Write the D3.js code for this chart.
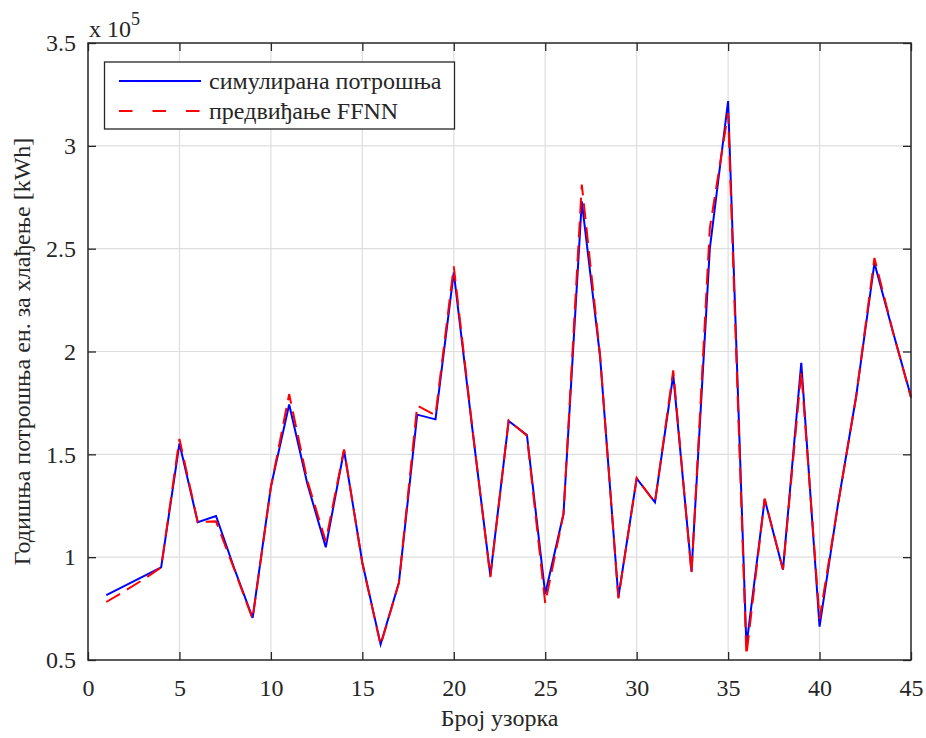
<!DOCTYPE html>
<html>
<head>
<meta charset="utf-8">
<script src="https://cdn.jsdelivr.net/npm/d3@7"></script>
<style>
  html, body { margin: 0; padding: 0; background: #fff; }
  svg { display: block; }
  text { font-family: "Liberation Serif", "Times New Roman", serif; fill: #262626; }
</style>
</head>
<body>
<svg id="chart" width="926" height="738"></svg>
<script>
// Sample index (1..45)
const samples = d3.range(1, 46);

// Simulated annual cooling energy consumption [kWh]
const simulated = [
  81500, 86000, 90500, 95000, 155300, 117000, 120000, 94500, 70500, 134300,
  174200, 135500, 104800, 152000, 97400, 57600, 87600, 169300, 167000, 238500,
  163500, 91000, 166200, 159400, 82100, 121100, 273000, 197500, 80500, 138300,
  126700, 188600, 93000, 250000, 321800, 56900, 128200, 93900, 194500, 66200,
  125300, 178100, 243000, 210000, 178000
];

// FFNN prediction [kWh]
const predicted = [
  78200, 83500, 89000, 95000, 157500, 117000, 117400, 94000, 70000, 134000,
  179300, 137000, 107700, 152400, 97000, 57200, 87500, 173700, 169000, 241400,
  164000, 90300, 166500, 159000, 77600, 121000, 281200, 198000, 80000, 138500,
  126500, 190800, 92000, 260000, 316000, 52300, 128500, 94000, 190400, 70000,
  125000, 178000, 245500, 210000, 177500
];

const xTicks = [0, 5, 10, 15, 20, 25, 30, 35, 40, 45];
const yTicks = [50000, 100000, 150000, 200000, 250000, 300000, 350000];

const seriesNames = ["симулирана потрошња", "предвиђање FFNN"];
const xTitle = "Број узорка";
const yTitle = "Годишња потрошња ен. за хлађење [kWh]";

const svg = d3.select("#chart");
const m = { left: 88, right: 911, top: 43, bottom: 660 };

const x = d3.scaleLinear().domain([0, 45]).range([m.left, m.right]);
const y = d3.scaleLinear().domain([50000, 350000]).range([m.bottom, m.top]);

const axisColor = "#262626";
const gridColor = "#dedede";
const fontSize = 24;

// grid
const grid = svg.append("g");
grid.selectAll(".gx").data(xTicks.slice(1, -1)).join("line")
  .attr("x1", d => x(d)).attr("x2", d => x(d))
  .attr("y1", m.top).attr("y2", m.bottom)
  .attr("stroke", gridColor).attr("stroke-width", 1.2);
grid.selectAll(".gy").data(yTicks.slice(1, -1)).join("line")
  .attr("x1", m.left).attr("x2", m.right)
  .attr("y1", d => y(d)).attr("y2", d => y(d))
  .attr("stroke", gridColor).attr("stroke-width", 1.2);

// series lines
const line = d3.line().x((d, i) => x(samples[i])).y(d => y(d));

svg.append("path").datum(simulated)
  .attr("d", line)
  .attr("fill", "none")
  .attr("stroke", "#0000ff")
  .attr("stroke-width", 2)
  .attr("stroke-linejoin", "miter");

svg.append("path").datum(predicted)
  .attr("d", line)
  .attr("fill", "none")
  .attr("stroke", "#ff0000")
  .attr("stroke-width", 2)
  .attr("stroke-dasharray", "16,8");

// axes (inward ticks on all four sides, box on)
const fmtY = d => String(+(d / 100000).toFixed(1));
const tickLen = 8;

function styleAxis(g) {
  g.select(".domain").remove();
  g.selectAll(".tick line").attr("stroke", axisColor).attr("stroke-width", 1.3);
  g.selectAll(".tick text").attr("font-size", fontSize)
    .attr("font-family", "Liberation Serif, Times New Roman, serif")
    .attr("fill", axisColor);
}

svg.append("g").attr("transform", `translate(0,${m.bottom})`)
  .call(d3.axisBottom(x).tickValues(xTicks).tickSizeInner(-tickLen).tickSizeOuter(0).tickPadding(20).tickFormat(d3.format("d")))
  .call(styleAxis)
  .call(g => g.selectAll(".tick text").attr("dy", "0.71em").attr("y", 19));

svg.append("g").attr("transform", `translate(0,${m.top})`)
  .call(d3.axisTop(x).tickValues(xTicks).tickSizeInner(-tickLen).tickSizeOuter(0).tickFormat(""))
  .call(styleAxis);

svg.append("g").attr("transform", `translate(${m.left},0)`)
  .call(d3.axisLeft(y).tickValues(yTicks).tickSizeInner(-tickLen).tickSizeOuter(0).tickFormat(fmtY))
  .call(styleAxis)
  .call(g => g.selectAll(".tick text").attr("x", -12));

svg.append("g").attr("transform", `translate(${m.right},0)`)
  .call(d3.axisRight(y).tickValues(yTicks).tickSizeInner(-tickLen).tickSizeOuter(0).tickFormat(""))
  .call(styleAxis);

// box
svg.append("rect")
  .attr("x", m.left).attr("y", m.top)
  .attr("width", m.right - m.left).attr("height", m.bottom - m.top)
  .attr("fill", "none").attr("stroke", axisColor).attr("stroke-width", 1.5);

// exponent label
const expo = svg.append("text").attr("x", 89).attr("y", 37).attr("font-size", fontSize);
expo.append("tspan").text("x 10");
expo.append("tspan").attr("font-size", 18).attr("dy", -12).text("5");

// axis titles
svg.append("text")
  .attr("x", (m.left + m.right) / 2).attr("y", 726)
  .attr("text-anchor", "middle").attr("font-size", fontSize)
  .text(xTitle);

svg.append("text")
  .attr("transform", `translate(30,${(m.top + m.bottom) / 2}) rotate(-90)`)
  .attr("text-anchor", "middle").attr("font-size", fontSize)
  .text(yTitle);

// legend
const lg = svg.append("g");
lg.append("rect")
  .attr("x", 104.5).attr("y", 62).attr("width", 350).attr("height", 67)
  .attr("fill", "#fff").attr("stroke", axisColor).attr("stroke-width", 1.3);

const legendRows = [
  { name: seriesNames[0], color: "#0000ff", dash: null, cy: 81 },
  { name: seriesNames[1], color: "#ff0000", dash: "13.5,20", cy: 111 }
];
legendRows.forEach(r => {
  lg.append("line")
    .attr("x1", 119).attr("x2", 201).attr("y1", r.cy).attr("y2", r.cy)
    .attr("stroke", r.color).attr("stroke-width", 2)
    .attr("stroke-dasharray", r.dash);
  lg.append("text")
    .attr("x", 209).attr("y", r.cy + 8)
    .attr("font-size", fontSize)
    .text(r.name);
});
</script>
</body>
</html>
